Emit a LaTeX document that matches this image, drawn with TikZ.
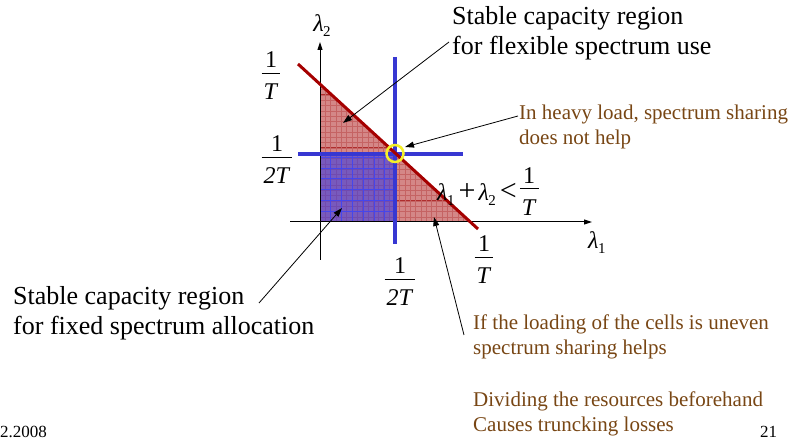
\documentclass[tikz,border=0pt]{standalone}
\usepackage{fontspec}
\setmainfont{Liberation Serif}
\usetikzlibrary{arrows.meta}
\definecolor{regpink}{RGB}{212,135,135}
\definecolor{gridred}{RGB}{175,45,45}
\definecolor{lred}{RGB}{165,0,0}
\definecolor{lblue}{RGB}{55,55,210}
\definecolor{sqblue}{RGB}{60,60,225}
\definecolor{gridblue}{RGB}{70,70,235}
\definecolor{hlyellow}{RGB}{245,240,40}
\definecolor{notebrown}{RGB}{120,70,20}
\tikzset{
  bigtxt/.style={font=\fontsize{26}{30}\selectfont, inner sep=0pt},
  notetxt/.style={font=\fontsize{21}{25}\selectfont, text=notebrown, inner sep=0pt},
  mathlbl/.style={font=\fontsize{24}{26}\selectfont, inner sep=0pt},
  foot/.style={font=\fontsize{17}{20}\selectfont, inner sep=0pt},
  axisline/.style={black, line width=1pt, -{Triangle[length=8pt,width=5pt]}},
  pointer/.style={black, line width=0.8pt, -{Triangle[length=9pt,width=6pt]}},
}
\setlength{\arrayrulewidth}{1pt}
\newcommand{\fr}[2]{\begin{tabular}{@{\hspace{2pt}}c@{\hspace{2pt}}}#1\\[-2.5pt]\hline\rule{0pt}{26pt}\textit{#2}\end{tabular}}
\newcommand{\lam}[1]{\textit{λ}\kern-0.5pt\raisebox{-5pt}{\fontsize{15}{15}\selectfont #1}}
\newcommand{\opsym}[1]{{\fontsize{30}{30}\selectfont #1}}
\begin{document}
\begin{tikzpicture}[x=1pt,y=-1pt]
\useasboundingbox (0,0) rectangle (796,443);

% red triangle region
\coordinate (tA) at (320,84);
\coordinate (tO) at (320,222);
\coordinate (tB) at (470.4,222);
\fill[regpink] (tA) -- (tO) -- (tB) -- cycle;
\begin{scope}
  \clip (tA) -- (tO) -- (tB) -- cycle;
  \foreach \i in {0,...,15} \draw[gridred, line width=0.6pt] (320+\i*10.6,80) -- (320+\i*10.6,226);
  \foreach \i in {0,...,14} \draw[gridred, line width=0.6pt] (316,222-\i*10.6) -- (476,222-\i*10.6);
  \foreach \i in {0,...,30} \draw[gridred!40!regpink, line width=0.3pt] (320+\i*5.3,80) -- (320+\i*5.3,226);
  \foreach \i in {0,...,28} \draw[gridred!40!regpink, line width=0.3pt] (316,222-\i*5.3) -- (476,222-\i*5.3);
\end{scope}

% blue square region
\fill[sqblue, opacity=0.6] (320,154) rectangle (395,222);
\begin{scope}
  \clip (320,154) rectangle (395,222);
  \foreach \i in {0,...,7} \draw[gridblue, line width=0.8pt] (320+\i*10.8,150) -- (320+\i*10.8,226);
  \foreach \i in {0,...,7} \draw[gridblue, line width=0.8pt] (316,222-\i*10.8) -- (399,222-\i*10.8);
\end{scope}

% axes
\coordinate (ax0) at (320,260);
\coordinate (ax1) at (320,42);
\coordinate (bx0) at (290,222);
\coordinate (bx1) at (592,222);
\draw[axisline] (ax0) -- (ax1);
\draw[axisline] (bx0) -- (bx1);

% thick lines
\coordinate (bv0) at (395,57);
\coordinate (bv1) at (395,244);
\coordinate (bh0) at (298,154);
\coordinate (bh1) at (463,154);
\draw[lblue, line width=4pt] (bv0) -- (bv1);
\draw[lblue, line width=4pt] (bh0) -- (bh1);
\coordinate (r0) at (298,64);
\coordinate (r1) at (478,229);
\draw[lred, line width=3pt] (r0) -- (r1);
\node[draw=hlyellow, line width=2.5pt, circle, minimum size=17pt, inner sep=0pt] (hl) at (395,153.5) {};

% axis labels
\node[mathlbl] (l2) at (322,26) {\lam{2}};
\node[mathlbl, anchor=west] (l1) at (588,243) {\lam{1}};
\node[mathlbl] (fTy) at (271,78.6) {\fr{1}{T}};
\node[mathlbl] (f2Ty) at (277,162.6) {\fr{1}{2T}};
\node[mathlbl] (f2Tx) at (400,284.6) {\fr{1}{2T}};
\node[mathlbl] (fTx) at (484,262.6) {\fr{1}{T}};
\node[mathlbl, anchor=west] (ineq) at (437,194) {\lam{1}\hspace{4pt}\opsym{+}\hspace{3pt}\lam{2}\hspace{4pt}\opsym{<}\hspace{3pt}\fr{1}{T}};

% texts
\node[bigtxt, anchor=base west] (t1a) at (452,25) {Stable capacity region};
\node[bigtxt, anchor=base west] (t1b) at (452,55) {for flexible spectrum use};
\node[bigtxt, anchor=base west] (t2a) at (13,305) {Stable capacity region};
\node[bigtxt, anchor=base west] (t2b) at (13,335) {for fixed spectrum allocation};
\node[notetxt, anchor=base west] (n1a) at (519,120) {In heavy load, spectrum sharing};
\node[notetxt, anchor=base west] (n1b) at (519,145) {does not help};
\node[notetxt, anchor=base west] (n2a) at (473,330) {If the loading of the cells is uneven};
\node[notetxt, anchor=base west] (n2b) at (473,355) {spectrum sharing helps};
\node[notetxt, anchor=base west] (n3a) at (473,407) {Dividing the resources beforehand};
\node[notetxt, anchor=base west] (n3b) at (473,432) {Causes truncking losses};
\node[foot, anchor=base east] (fl) at (47,438) {2.2008};
\node[foot, anchor=base west] (fr) at (760,438) {21};

% pointers
\coordinate (p1s) at (449,42);
\coordinate (p1e) at (343,123);
\coordinate (p2s) at (518,116);
\coordinate (p2e) at (405,147);
\coordinate (p3s) at (259,303);
\coordinate (p3e) at (342,208);
\coordinate (p4s) at (464,335);
\coordinate (p4e) at (434,217);
\draw[pointer] (p1s) -- (p1e);
\draw[pointer] (p2s) -- (p2e);
\draw[pointer] (p3s) -- (p3e);
\draw[pointer] (p4s) -- (p4e);
\end{tikzpicture}
\end{document}
